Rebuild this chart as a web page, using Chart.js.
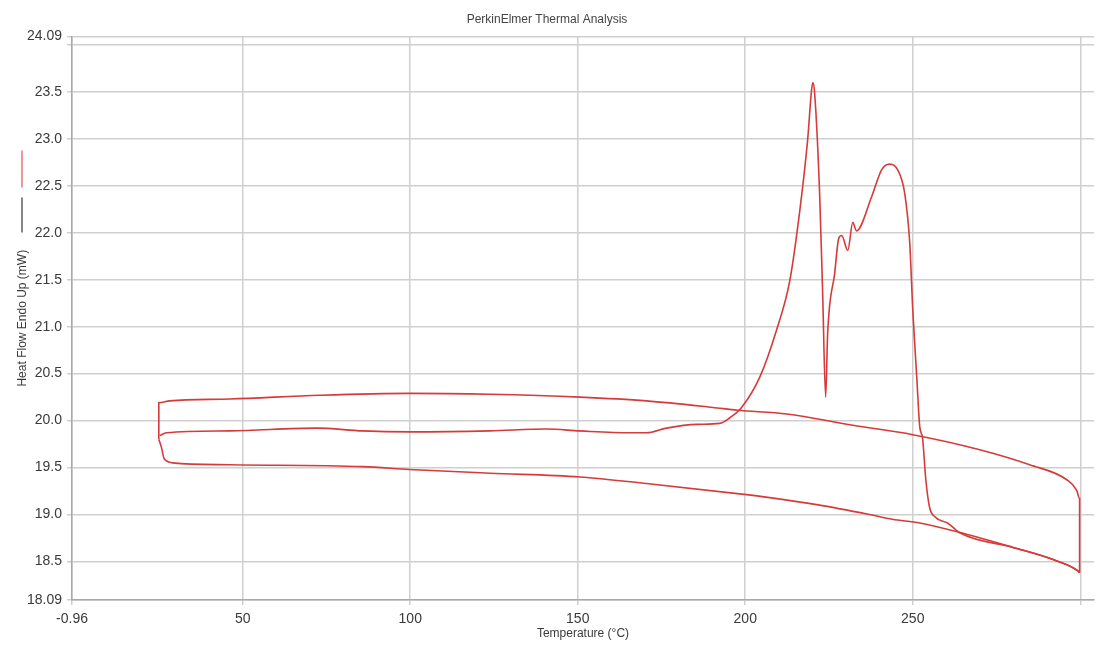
<!DOCTYPE html>
<html>
<head>
<meta charset="utf-8">
<script src="https://cdn.jsdelivr.net/npm/chart.js@4"></script>
<style>
  html, body { margin: 0; padding: 0; background: #ffffff; }
  canvas { display: block; }
</style>
</head>
<body>
<canvas id="c" width="1096" height="645"></canvas>
<script>
// ---- Data ----
// First heating scan (middle baseline, melting peaks, then drop to lower line)
const heat1Temp = [25.2, 27.3, 46.1, 72.1, 85.8, 99.8, 123.7, 140.7, 150.6, 165.5, 170.5, 176.5, 185.5, 192.4, 195.4, 198.9, 204.3, 209.3, 213.3, 216.3, 218.6, 219.8, 220.2, 220.7, 222.2, 223.1, 224.0, 224.6, 226.7, 227.9, 228.8, 230.6, 232.1, 233.2, 237.7, 240.7, 243.1, 245.5, 247.6, 249.1, 250.0, 251.2, 252.1, 252.9, 253.9, 255.0, 256.8, 260.4, 264.3, 279.9, 291.9, 299.3, 299.8];
const heat1Flow = [19.84, 19.87, 19.89, 19.92, 19.89, 19.88, 19.89, 19.91, 19.89, 19.87, 19.87, 19.92, 19.96, 19.97, 20.03, 20.14, 20.46, 20.96, 21.49, 22.24, 22.98, 23.52, 23.60, 23.49, 22.42, 21.36, 20.25, 20.93, 21.57, 21.94, 21.97, 21.81, 22.11, 22.02, 22.38, 22.67, 22.73, 22.67, 22.42, 21.89, 21.18, 20.46, 19.93, 19.82, 19.37, 19.08, 18.97, 18.91, 18.80, 18.65, 18.52, 18.40, 18.38];
// Cooling scan (upper line, right to left)
const coolTemp = [299.8, 299.8, 298.9, 296.0, 284.9, 270.0, 250.0, 232.1, 212.4, 197.7, 190.3, 170.5, 150.6, 123.7, 99.8, 73.0, 46.1, 28.2, 24.95, 24.95];
const coolFlow = [18.38, 19.17, 19.26, 19.37, 19.53, 19.69, 19.85, 19.95, 20.07, 20.11, 20.14, 20.21, 20.25, 20.28, 20.29, 20.27, 20.23, 20.21, 20.19, 19.80];
// Second heating scan (lower line)
const heat2Temp = [24.95, 25.7, 26.6, 29.1, 46.1, 85.8, 99.8, 123.7, 150.6, 170.5, 198.3, 207.3, 222.2, 237.1, 243.9, 252.1, 265.0, 279.9, 291.9, 299.3, 299.8];
const heat2Flow = [19.80, 19.72, 19.59, 19.55, 19.53, 19.51, 19.48, 19.44, 19.40, 19.33, 19.22, 19.18, 19.10, 19.00, 18.95, 18.91, 18.80, 18.65, 18.52, 18.40, 18.38];

// Tick values and labels
const xTickValues = [-0.96, 50, 100, 150, 200, 250, 300];
const xTickLabels = ['-0.96', '50', '100', '150', '200', '250', ''];
const yTickValues = [18.09, 18.5, 19.0, 19.5, 20.0, 20.5, 21.0, 21.5, 22.0, 22.5, 23.0, 23.5, 24.0, 24.09];
const yTickLabels = ['18.09', '18.5', '19.0', '19.5', '20.0', '20.5', '21.0', '21.5', '22.0', '22.5', '23.0', '23.5', '', '24.09'];

const toPoints = (xs, ys) => xs.map((x, i) => ({ x: x, y: ys[i] }));

const RED = '#d63a3a';
const GRID = '#cfcfcf';
const TEXT = '#3a3a3a';
const FONT = "'Liberation Sans', Arial, sans-serif";

const lineDs = (label, pts) => ({
  label: label,
  data: pts,
  borderColor: RED,
  backgroundColor: RED,
  borderWidth: 1.6,
  pointRadius: 0,
  pointHoverRadius: 0,
  showLine: true,
  cubicInterpolationMode: 'monotone',
  fill: false
});

// Legend swatches drawn next to the rotated y-axis title
const legendMarks = {
  id: 'legendMarks',
  afterDraw(chart) {
    const ctx = chart.ctx;
    const ca = chart.chartArea;
    const x = 22;
    ctx.save();
    ctx.lineWidth = 1.3;
    ctx.strokeStyle = '#e06060';
    ctx.beginPath();
    ctx.moveTo(x, ca.top + 114);
    ctx.lineTo(x, ca.top + 151);
    ctx.stroke();
    ctx.strokeStyle = '#444444';
    ctx.beginPath();
    ctx.moveTo(x, ca.top + 161);
    ctx.lineTo(x, ca.top + 196);
    ctx.stroke();
    ctx.restore();
  }
};

new Chart(document.getElementById('c'), {
  type: 'scatter',
  data: {
    datasets: [
      lineDs('Heating 1', toPoints(heat1Temp, heat1Flow)),
      lineDs('Cooling', toPoints(coolTemp, coolFlow)),
      lineDs('Heating 2', toPoints(heat2Temp, heat2Flow))
    ]
  },
  options: {
    responsive: false,
    animation: false,
    devicePixelRatio: 1,
    layout: { padding: { left: 0, right: 2, top: 0, bottom: 0 } },
    plugins: {
      legend: { display: false },
      tooltip: { enabled: false },
      title: {
        display: true,
        text: 'PerkinElmer Thermal Analysis',
        color: '#444444',
        font: { family: FONT, size: 12, weight: 'normal' },
        padding: { top: 12, bottom: 10 }
      }
    },
    scales: {
      x: {
        type: 'linear',
        min: -0.96,
        max: 304.1,
        afterBuildTicks: (scale) => { scale.ticks = xTickValues.map(v => ({ value: v })); },
        afterFit: (scale) => { scale.height = 45; },
        ticks: {
          autoSkip: false,
          maxRotation: 0,
          color: TEXT,
          font: { family: FONT, size: 14 },
          padding: 6,
          callback: (value, index) => xTickLabels[index]
        },
        grid: { color: GRID, lineWidth: 1.5, tickLength: 5, drawTicks: true },
        border: { display: true, color: '#a8a8a8', width: 1.5 },
        title: {
          display: true,
          text: 'Temperature (°C)',
          color: TEXT,
          font: { family: FONT, size: 12 },
          padding: { top: 0, bottom: 4 }
        }
      },
      y: {
        type: 'linear',
        min: 18.09,
        max: 24.09,
        afterBuildTicks: (scale) => { scale.ticks = yTickValues.map(v => ({ value: v })); },
        afterFit: (scale) => { scale.width = 72; },
        ticks: {
          autoSkip: false,
          color: TEXT,
          font: { family: FONT, size: 14 },
          padding: 5,
          callback: (value, index) => yTickLabels[index]
        },
        grid: { color: GRID, lineWidth: 1.5, tickLength: 5, drawTicks: true },
        border: { display: true, color: '#a8a8a8', width: 1.5 },
        title: {
          display: true,
          text: 'Heat Flow Endo Up (mW)',
          color: TEXT,
          font: { family: FONT, size: 12 },
          padding: { top: 15, bottom: 0 }
        }
      }
    }
  },
  plugins: [legendMarks]
});
</script>
</body>
</html>
